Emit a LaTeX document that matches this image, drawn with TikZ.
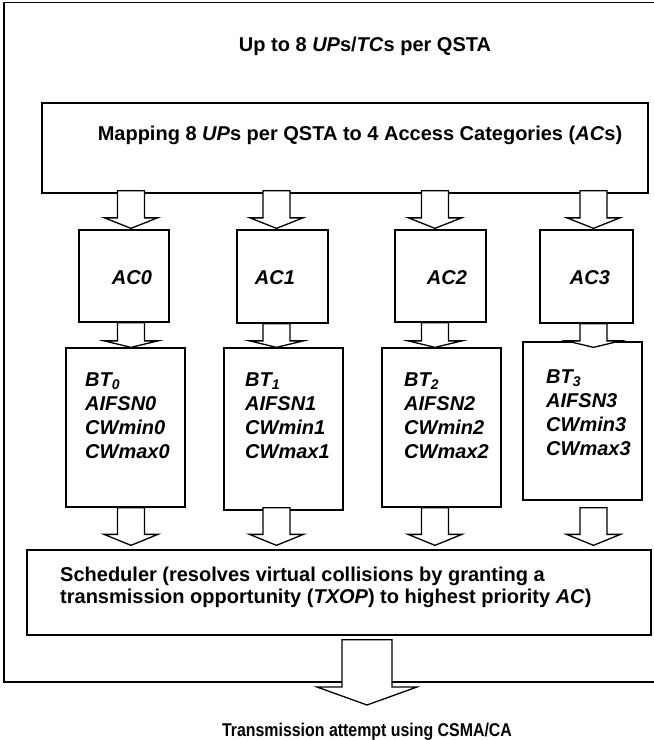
\documentclass[tikz,border=0pt]{standalone}
\usepackage{fontspec}
\setmainfont{Liberation Sans}
\usetikzlibrary{calc}
\newcommand\blockarrow[8]{%
  \draw[blockarr] let \p1=(#1), \p2=(#3), \p3=(#5) in
    (\x3-#6,\y1+#2) -- (\x3+#6,\y1+#2) -- (\x3+#6,\y2+#4+#8) -- (\x3+#7,\y2+#4+#8)
    -- (\x3,\y2+#4) -- (\x3-#7,\y2+#4+#8) -- (\x3-#6,\y2+#4+#8) -- cycle;}
\begin{document}
\begin{tikzpicture}[x=1pt,y=-1pt,
  box/.style={draw, line width=1.3pt, fill=white, inner sep=0pt, rectangle},
  blockarr/.style={draw, line width=1.3pt, fill=white, line join=miter},
  txt/.style={inner sep=0pt, font=\fontsize{20}{23.8}\selectfont\bfseries},
  lab/.style={inner sep=0pt, font=\fontsize{20}{23.8}\selectfont\bfseries\itshape},
  btlab/.style={lab, align=left, anchor=north west}]
\useasboundingbox (0,0) rectangle (654,740);
% outer frame (right side runs off the page)
\draw[line width=1.3pt] (654,2.5) -- (4,2.5) -- (4,682) -- (654,682);
% boxes
\node[box, minimum width=606pt, minimum height=90pt] (map) at (345,148) {};
\node[box, minimum width=90pt, minimum height=92pt] (ac0) at (124,276) {};
\node[box, minimum width=91pt, minimum height=93pt] (ac1) at (282.5,276.5) {};
\node[box, minimum width=91pt, minimum height=92pt] (ac2) at (440.5,276) {};
\node[box, minimum width=93pt, minimum height=93pt] (ac3) at (586.5,276.5) {};
\node[box, minimum width=119pt, minimum height=159pt] (bt0) at (125.5,427.5) {};
\node[box, minimum width=119pt, minimum height=162pt] (bt1) at (283.5,429) {};
\node[box, minimum width=119pt, minimum height=159pt] (bt2) at (441.5,427.5) {};
\node[box, minimum width=119pt, minimum height=158pt] (bt3) at (582.5,421) {};
\node[box, minimum width=624pt, minimum height=85pt] (sched) at (339,592.5) {};
% arrow axes
\coordinate (c0) at (131,0);
\coordinate (c1) at (276.5,0);
\coordinate (c2) at (435,0);
\coordinate (c3) at (593.5,0);
\coordinate (c4) at (367,0);
\coordinate (out) at (367,705);
% arrows: map -> AC
\blockarrow{map.south}{3pt}{ac0.north}{1pt}{c0}{13.5pt}{26.5pt}{10.5pt}
\blockarrow{map.south}{3pt}{ac1.north}{1pt}{c1}{13.5pt}{26.5pt}{10.5pt}
\blockarrow{map.south}{3pt}{ac2.north}{1pt}{c2}{13.5pt}{26.5pt}{10.5pt}
\blockarrow{map.south}{3pt}{ac3.north}{1pt}{c3}{13.5pt}{26.5pt}{10.5pt}
% AC -> BT
\blockarrow{ac0.south}{0pt}{bt0.north}{0pt}{c0}{13.5pt}{27pt}{6.5pt}
\blockarrow{ac1.south}{0pt}{bt1.north}{0pt}{c1}{13.5pt}{27pt}{6.5pt}
\blockarrow{ac2.south}{0pt}{bt2.north}{0pt}{c2}{13.5pt}{27pt}{6.5pt}
\blockarrow{ac3.south}{0pt}{bt3.north}{-6pt}{c3}{13.5pt}{27pt}{6.5pt}
% BT -> scheduler
\blockarrow{bt0.south}{0pt}{sched.north}{4pt}{c0}{13.5pt}{27pt}{11pt}
\blockarrow{bt1.south}{3pt}{sched.north}{4pt}{c1}{13.5pt}{27pt}{11pt}
\blockarrow{bt2.south}{0pt}{sched.north}{4pt}{c2}{13.5pt}{27pt}{11pt}
\blockarrow{bt3.south}{-7pt}{sched.north}{4pt}{c3}{13.5pt}{27pt}{11pt}
% scheduler -> out
\blockarrow{sched.south}{-4pt}{out}{0pt}{c4}{25pt}{50pt}{18pt}
% texts
\node[txt, anchor=base] (uptxt) at (365,51) {Up to 8 \textit{UP}s/\textit{TC}s per QSTA};
\node[txt, anchor=base] (maptxt) at (360,140) {Mapping 8 \textit{UP}s per QSTA to 4 Access Categories (\textit{AC}s)};
\node[lab, anchor=base] (ac0t) at (132,284) {AC0};
\node[lab, anchor=base] (ac1t) at (275,284) {AC1};
\node[lab, anchor=base] (ac2t) at (447,284) {AC2};
\node[lab, anchor=base] (ac3t) at (590,284) {AC3};
\node[btlab] (bt0t) at (85,372.7) {BT\textsubscript{0}\\AIFSN0\\CWmin0\\CWmax0};
\node[btlab] (bt1t) at (245,372.7) {BT\textsubscript{1}\\AIFSN1\\CWmin1\\CWmax1};
\node[btlab] (bt2t) at (404,372.7) {BT\textsubscript{2}\\AIFSN2\\CWmin2\\CWmax2};
\node[btlab] (bt3t) at (546,369.7) {BT\textsubscript{3}\\AIFSN3\\CWmin3\\CWmax3};
\node[txt, align=left, anchor=north west, font=\fontsize{20}{22.7}\selectfont\bfseries] (schedt) at (60,566.4)
  {Scheduler (resolves virtual collisions by granting a\\transmission opportunity (\textit{TXOP}) to highest priority \textit{AC})};
\node[inner sep=0pt, anchor=base] (outt) at (367,736.5)
  {\scalebox{0.86}[1]{\fontsize{18.5}{22}\selectfont\bfseries Transmission attempt using CSMA/CA}};
\end{tikzpicture}
\end{document}
